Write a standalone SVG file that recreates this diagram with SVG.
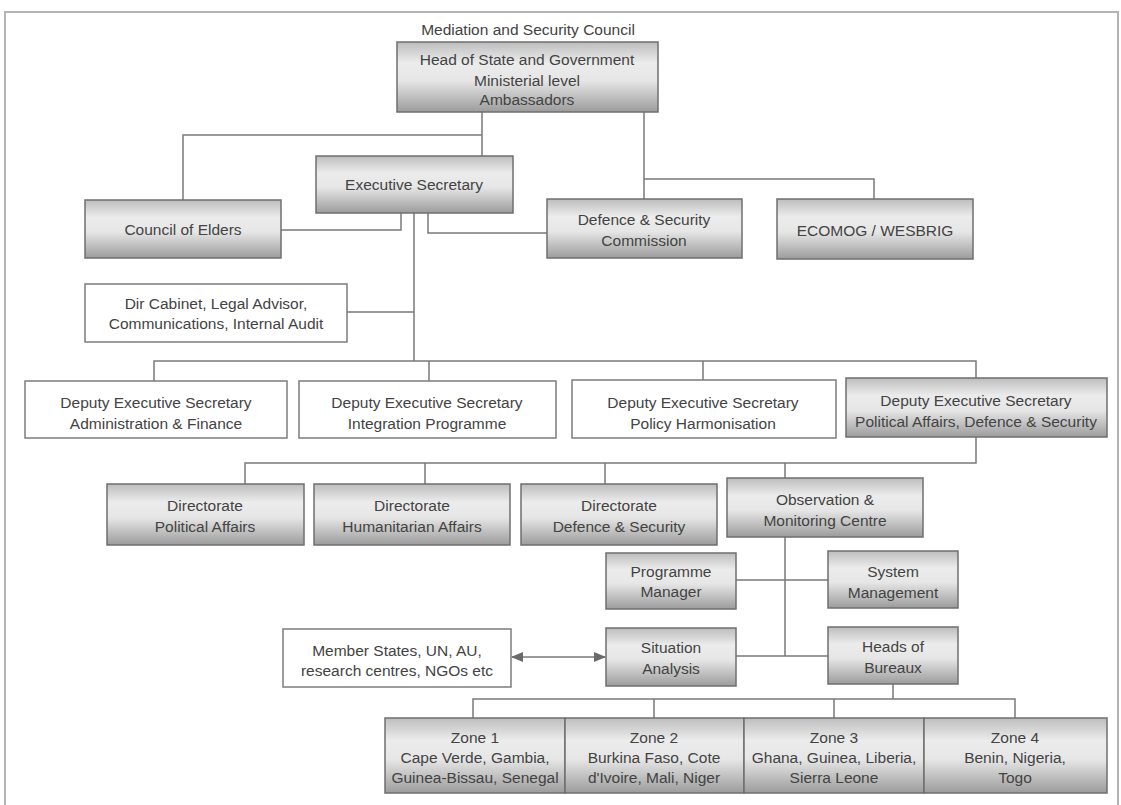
<svg xmlns="http://www.w3.org/2000/svg" width="1121" height="805" viewBox="0 0 1121 805">
  <defs>
    <linearGradient id="shade" x1="0" y1="0" x2="0" y2="1">
      <stop offset="0" stop-color="#bdbdbd"/>
      <stop offset="0.3" stop-color="#ececec"/>
      <stop offset="0.55" stop-color="#e6e6e6"/>
      <stop offset="1" stop-color="#9c9c9c"/>
    </linearGradient>
    <marker id="arrow" viewBox="0 0 12 10" refX="11" refY="5" markerWidth="12" markerHeight="10" markerUnits="userSpaceOnUse" orient="auto-start-reverse">
      <path d="M0,0 L12,5 L0,10 Z" fill="#6a6a6a"/>
    </marker>
  </defs>
  <style>
    .frame { fill: none; stroke: #b4b4b4; stroke-width: 2; }
    .box-shaded { fill: url(#shade); stroke: #6f6f6f; stroke-width: 1.5; }
    .box-plain { fill: #ffffff; stroke: #7c7c7c; stroke-width: 1.5; }
    .link { fill: none; stroke: #7a7a7a; stroke-width: 1.5; }
    text { font-family: "Liberation Sans", Arial, sans-serif; font-size: 15.5px; fill: #434343; text-anchor: middle; }
  </style>

  <rect width="1121" height="805" fill="#ffffff"/>
  <!-- page border, open at the bottom -->
  <path class="frame" d="M5,805 V12 H1118 V805"/>

  <!-- connectors -->
  <g id="connectors">
    <path class="link" d="M482,112 V156 M183,200 V135 H482"/>
    <path class="link" d="M644,112 V199 M644,179 H874 V199"/>
    <path class="link" d="M281,230 H401 V213"/>
    <path class="link" d="M428,213 V233 H547"/>
    <path class="link" d="M414,213 V361 M347,312 H414"/>
    <path class="link" d="M154,381 V361 H976 V378 M429,361 V381 M703,361 V380"/>
    <path class="link" d="M976,437 V463 H245 V484 M425,463 V484 M605,463 V484 M785,463 V478"/>
    <path class="link" d="M785,537 V656 M736,580 H828 M736,656 H828"/>
    <path class="link" d="M893,684 V699 M473,718 V699 H1015 V718 M654,699 V718 M834,699 V718"/>
    <line class="link" x1="512" y1="657" x2="605" y2="657" marker-start="url(#arrow)" marker-end="url(#arrow)"/>
  </g>

  <text x="528" y="35">Mediation and Security Council</text>

  <g id="head-of-state">
    <rect class="box-shaded" x="397" y="42" width="261" height="70"/>
    <text x="527" y="64.5">Head of State and Government</text>
    <text x="527" y="85.5">Ministerial level</text>
    <text x="527" y="105">Ambassadors</text>
  </g>

  <g id="executive-secretary">
    <rect class="box-shaded" x="316" y="156" width="197" height="57"/>
    <text x="414" y="190">Executive Secretary</text>
  </g>

  <g id="council-of-elders">
    <rect class="box-shaded" x="85" y="200" width="196" height="58"/>
    <text x="183" y="234.5">Council of Elders</text>
  </g>

  <g id="defence-security-commission">
    <rect class="box-shaded" x="547" y="199" width="195" height="59"/>
    <text x="644" y="224.5">Defence &amp; Security</text>
    <text x="644" y="245.5">Commission</text>
  </g>

  <g id="ecomog">
    <rect class="box-shaded" x="777" y="199" width="196" height="60"/>
    <text x="875" y="235.5">ECOMOG / WESBRIG</text>
  </g>

  <g id="dir-cabinet">
    <rect class="box-plain" x="85" y="284" width="262" height="58"/>
    <text x="216" y="308.5">Dir Cabinet, Legal Advisor,</text>
    <text x="216" y="328.5">Communications, Internal Audit</text>
  </g>

  <g id="des-admin-finance">
    <rect class="box-plain" x="25" y="381" width="262" height="57"/>
    <text x="156" y="407.5">Deputy Executive Secretary</text>
    <text x="156" y="428.5">Administration &amp; Finance</text>
  </g>

  <g id="des-integration">
    <rect class="box-plain" x="299" y="381" width="257" height="57"/>
    <text x="427" y="407.5">Deputy Executive Secretary</text>
    <text x="427" y="428.5">Integration Programme</text>
  </g>

  <g id="des-policy">
    <rect class="box-plain" x="572" y="380" width="264" height="58"/>
    <text x="703" y="407.5">Deputy Executive Secretary</text>
    <text x="703" y="428.5">Policy Harmonisation</text>
  </g>

  <g id="des-political">
    <rect class="box-shaded" x="846" y="378" width="261" height="59"/>
    <text x="976" y="405.5">Deputy Executive Secretary</text>
    <text x="976" y="426.5">Political Affairs, Defence &amp; Security</text>
  </g>

  <g id="dir-political">
    <rect class="box-shaded" x="107" y="484" width="197" height="61"/>
    <text x="205" y="510.5">Directorate</text>
    <text x="205" y="531.5">Political Affairs</text>
  </g>

  <g id="dir-humanitarian">
    <rect class="box-shaded" x="314" y="484" width="196" height="61"/>
    <text x="412" y="510.5">Directorate</text>
    <text x="412" y="531.5">Humanitarian Affairs</text>
  </g>

  <g id="dir-defence">
    <rect class="box-shaded" x="521" y="484" width="196" height="61"/>
    <text x="619" y="510.5">Directorate</text>
    <text x="619" y="531.5">Defence &amp; Security</text>
  </g>

  <g id="observation-centre">
    <rect class="box-shaded" x="727" y="478" width="196" height="59"/>
    <text x="825" y="504.5">Observation &amp;</text>
    <text x="825" y="525.5">Monitoring Centre</text>
  </g>

  <g id="programme-manager">
    <rect class="box-shaded" x="606" y="553" width="130" height="56"/>
    <text x="671" y="577">Programme</text>
    <text x="671" y="597">Manager</text>
  </g>

  <g id="system-management">
    <rect class="box-shaded" x="828" y="551" width="130" height="57"/>
    <text x="893" y="576.5">System</text>
    <text x="893" y="597.5">Management</text>
  </g>

  <g id="situation-analysis">
    <rect class="box-shaded" x="606" y="628" width="130" height="58"/>
    <text x="671" y="652.5">Situation</text>
    <text x="671" y="673.5">Analysis</text>
  </g>

  <g id="heads-of-bureaux">
    <rect class="box-shaded" x="828" y="627" width="130" height="57"/>
    <text x="893" y="651.5">Heads of</text>
    <text x="893" y="672.5">Bureaux</text>
  </g>

  <g id="member-states">
    <rect class="box-plain" x="283" y="629" width="228" height="58"/>
    <text x="397" y="655.5">Member States, UN, AU,</text>
    <text x="397" y="675.5">research centres, NGOs etc</text>
  </g>

  <g id="zone-1">
    <rect class="box-shaded" x="385" y="718" width="180" height="75"/>
    <text x="475" y="742.5">Zone 1</text>
    <text x="475" y="762.5">Cape Verde, Gambia,</text>
    <text x="475" y="782.5">Guinea-Bissau, Senegal</text>
  </g>

  <g id="zone-2">
    <rect class="box-shaded" x="565" y="718" width="179" height="75"/>
    <text x="654" y="742.5">Zone 2</text>
    <text x="654" y="762.5">Burkina Faso, Cote</text>
    <text x="654" y="782.5">d'Ivoire, Mali, Niger</text>
  </g>

  <g id="zone-3">
    <rect class="box-shaded" x="744" y="718" width="180" height="75"/>
    <text x="834" y="742.5">Zone 3</text>
    <text x="834" y="762.5">Ghana, Guinea, Liberia,</text>
    <text x="834" y="782.5">Sierra Leone</text>
  </g>

  <g id="zone-4">
    <rect class="box-shaded" x="924" y="718" width="183" height="75"/>
    <text x="1015" y="742.5">Zone 4</text>
    <text x="1015" y="762.5">Benin, Nigeria,</text>
    <text x="1015" y="782.5">Togo</text>
  </g>
</svg>
